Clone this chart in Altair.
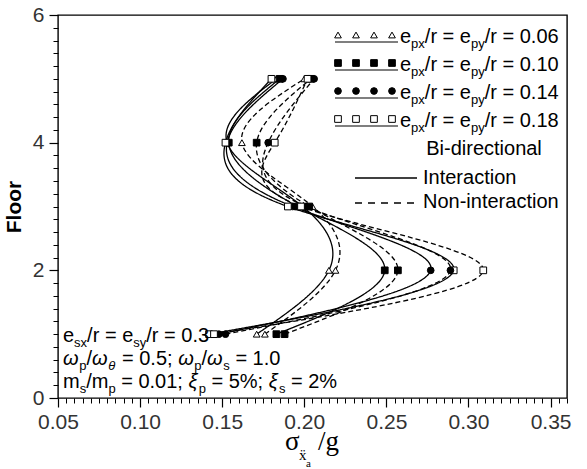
import altair as alt
import pandas as pd

# ---------------- data ----------------
floors = [1, 2, 3, 4, 5]
ecc_labels = ["0.06", "0.10", "0.14", "0.18"]
kinds = ["Interaction", "Non-interaction"]

inter_006 = [0.171, 0.215, 0.199, 0.153, 0.183]
inter_010 = [0.183, 0.249, 0.196, 0.154, 0.185]
inter_014 = [0.148, 0.277, 0.193, 0.153, 0.187]
inter_018 = [0.142, 0.291, 0.190, 0.152, 0.180]
non_006 = [0.176, 0.219, 0.205, 0.162, 0.200]
non_010 = [0.188, 0.257, 0.203, 0.171, 0.204]
non_014 = [0.152, 0.289, 0.201, 0.178, 0.206]
non_018 = [0.145, 0.309, 0.198, 0.182, 0.202]

x_ticks = [0.05, 0.10, 0.15, 0.20, 0.25, 0.30, 0.35]
y_ticks = [0, 2, 4, 6]

series = {
    ("Interaction", "0.06"): inter_006,
    ("Interaction", "0.10"): inter_010,
    ("Interaction", "0.14"): inter_014,
    ("Interaction", "0.18"): inter_018,
    ("Non-interaction", "0.06"): non_006,
    ("Non-interaction", "0.10"): non_010,
    ("Non-interaction", "0.14"): non_014,
    ("Non-interaction", "0.18"): non_018,
}
rows = []
for (kind, ecc), vals in series.items():
    for f, v in zip(floors, vals):
        rows.append({"kind": kind, "ecc": ecc, "series": kind + ecc, "floor": f, "sigma": v})
df = pd.DataFrame(rows)

# ---------------- geometry ----------------
L, T, W, H = 58, 15, 509, 383
X_MIN, X_MAX = 0.05, 0.36

x_minor = [round(0.05 + 0.005 * i, 4) for i in range(63) if i % 10]
y_minor = [round(0.2 * i, 4) for i in range(31) if i % 10]

xscale = alt.Scale(domain=[X_MIN, X_MAX], nice=False, zero=False)
yscale = alt.Scale(domain=[0, 6], nice=False, zero=False)
shape_scale = alt.Scale(domain=ecc_labels, range=["triangle-up", "square", "circle", "square"])
fill_scale = alt.Scale(domain=ecc_labels, range=["white", "black", "black", "white"])

LABEL_FONT = "Liberation Sans"
MSIZE = 45

x_major_axis = alt.Axis(values=x_ticks, format=".2f", labelFontSize=21, labelFont=LABEL_FONT,
                        labelColor="#333", tickSize=9, tickColor="black", tickWidth=1.2,
                        domain=False, grid=False, title=None, labelPadding=4, orient="bottom",
                        labelFlush=False, labelOverlap=False)
y_major_axis = alt.Axis(values=y_ticks, format="d", labelFontSize=21, labelFont=LABEL_FONT,
                        labelColor="#333", tickSize=9, tickColor="black", tickWidth=1.2,
                        domain=False, grid=False, title="Floor", titleFont=LABEL_FONT,
                        titleFontSize=21, titleFontWeight="bold", titleColor="black",
                        titleX=-38, titleY=H / 2, titleAngle=-90, titleBaseline="alphabetic",
                        titleAlign="center", labelPadding=5, orient="left", labelFlush=False)

base = alt.Chart(df)

lines = base.mark_line(interpolate="natural", color="black", strokeWidth=1.3).encode(
    x=alt.X("sigma:Q", scale=xscale, axis=x_major_axis),
    y=alt.Y("floor:Q", scale=yscale, axis=y_major_axis),
    detail="series:N",
    order=alt.Order("floor:Q"),
    strokeDash=alt.StrokeDash("kind:N", scale=alt.Scale(domain=kinds, range=[[1, 0], [5, 3]]), legend=None),
)

points = base.mark_point(filled=True, stroke="black", strokeWidth=1, size=MSIZE, opacity=1).encode(
    x=alt.X("sigma:Q", scale=xscale, axis=None),
    y=alt.Y("floor:Q", scale=yscale, axis=None),
    shape=alt.Shape("ecc:N", scale=shape_scale, legend=None),
    fill=alt.Fill("ecc:N", scale=fill_scale, legend=None),
)

minor = base.mark_point(opacity=0).encode(
    x=alt.X("sigma:Q", scale=xscale,
            axis=alt.Axis(values=x_minor, labels=False, domain=False, tickSize=5, grid=False,
                          orient="bottom", title=None, tickColor="black", tickWidth=1)),
    y=alt.Y("floor:Q", scale=yscale,
            axis=alt.Axis(values=y_minor, labels=False, domain=False, tickSize=5, grid=False,
                          orient="left", title=None, tickColor="black", tickWidth=1)),
)

# ---------------- legend ----------------
leg_rows = []
for r, e in enumerate(ecc_labels):
    for k in range(4):
        leg_rows.append({"ecc": e, "row": r, "slot": k})
leg_df = pd.DataFrame(leg_rows)

leg_points = alt.Chart(leg_df).transform_calculate(
    px="280 + 18*datum.slot", py="20 + 28*datum.row"
).mark_point(filled=True, stroke="black", strokeWidth=1, size=MSIZE, opacity=1).encode(
    x=alt.X("px:Q", scale=None, axis=None),
    y=alt.Y("py:Q", scale=None, axis=None),
    shape=alt.Shape("ecc:N", scale=shape_scale, legend=None),
    fill=alt.Fill("ecc:N", scale=fill_scale, legend=None),
)

dummy = pd.DataFrame({"k": [0]})
leg_rules = []
for r in range(4):
    leg_rules.append(alt.Chart(dummy).mark_rule(color="black", strokeWidth=1.2).encode(
        x=alt.value(277), x2=alt.value(340), y=alt.value(27 + 28 * r)))
leg_rules.append(alt.Chart(dummy).mark_rule(color="black", strokeWidth=1.3).encode(
    x=alt.value(297), x2=alt.value(359), y=alt.value(163)))
leg_rules.append(alt.Chart(dummy).mark_rule(color="black", strokeWidth=1.3, strokeDash=[7, 6]).encode(
    x=alt.value(297), x2=alt.value(359), y=alt.value(188)))

# ---------------- rich text ----------------
WID = {' ': 278, '%': 889, '.': 278, '/': 278, ';': 278, '=': 584, '-': 333,
       'B': 667, 'I': 278, 'N': 722, 'a': 556, 'c': 500, 'd': 556, 'e': 556, 'i': 222,
       'l': 222, 'm': 833, 'n': 556, 'o': 556, 'p': 556, 'r': 333, 's': 500, 't': 278,
       'x': 500, 'y': 500, 'ω': 760, 'θ': 556, 'ξ': 460}
for d in "0123456789":
    WID[d] = 556


def tw(s, size):
    return sum(WID.get(c, 556) for c in s) * size / 1000.0


def rich(segments, x0, y0, size):
    out = []
    x = x0
    for txt, sub, it in segments:
        sz = size * 0.65 if sub else size
        dy = size * 0.26 if sub else 0
        lead = len(txt) - len(txt.lstrip(" "))
        x += tw(" " * lead, sz)
        core = txt.strip(" ")
        trail = len(txt) - lead - len(core)
        out.append({"text": core, "px": x - L, "py": y0 + dy - T, "size": sz, "italic": it})
        x += tw(core, sz) + tw(" " * trail, sz) + (1.0 if it else 0.0)
    return out


S = 20
texts = []
for r, e in enumerate(ecc_labels):
    texts += rich([("e", 0, 0), ("px", 1, 0), ("/r = e", 0, 0), ("py", 1, 0), ("/r = " + e, 0, 0)],
                  400, 43 + 28 * r, S)
texts += rich([("Bi-directional", 0, 0)], 484 - tw("Bi-directional", S) / 2, 155, S)
texts += rich([("Interaction", 0, 0)], 423, 184, S)
texts += rich([("Non-interaction", 0, 0)], 423, 208, S)
texts += rich([("e", 0, 0), ("sx", 1, 0), ("/r = e", 0, 0), ("sy", 1, 0), ("/r = 0.3", 0, 0)], 63, 342, S)
texts += rich([("ω", 0, 1), ("p", 1, 0), ("/", 0, 0), ("ω", 0, 1), ("θ", 1, 1), (" = 0.5; ", 0, 0),
               ("ω", 0, 1), ("p", 1, 0), ("/", 0, 0), ("ω", 0, 1), ("s", 1, 0), (" = 1.0", 0, 0)], 63, 365, S)
texts += rich([("m", 0, 0), ("s", 1, 0), ("/m", 0, 0), ("p", 1, 0), (" = 0.01; ", 0, 0), ("ξ", 0, 1),
               ("p", 1, 0), (" = 5%; ", 0, 0), ("ξ", 0, 1), ("s", 1, 0), (" = 2%", 0, 0)], 63, 388, S)
tdf = pd.DataFrame(texts)

serif_df = pd.DataFrame([
    {"text": "σ", "px": 285 - L, "py": 450 - T, "size": 27},
    {"text": "ẍ", "px": 299 - L, "py": 460 - T, "size": 15},
    {"text": "a", "px": 306 - L, "py": 467 - T, "size": 11},
    {"text": "/g", "px": 318 - L, "py": 450 - T, "size": 27},
])


def text_layer(data, **kw):
    return alt.Chart(data).mark_text(align="left", baseline="alphabetic", color="black", **kw).encode(
        x=alt.X("px:Q", scale=None, axis=None),
        y=alt.Y("py:Q", scale=None, axis=None),
        text="text:N",
        size=alt.Size("size:Q", scale=None, legend=None),
    )


txt_normal = text_layer(tdf[tdf["italic"] == 0], font=LABEL_FONT)
txt_italic = text_layer(tdf[tdf["italic"] == 1], font=LABEL_FONT, fontStyle="italic")
txt_serif = text_layer(serif_df, font="Liberation Serif")

chart = alt.layer(
    minor, lines, points, leg_points, *leg_rules, txt_normal, txt_italic, txt_serif
).resolve_axis(x="independent", y="independent").properties(
    width=W, height=H,
    autosize=alt.AutoSizeParams(type="none"),
    padding={"left": L, "top": T, "right": 587 - L - W, "bottom": 469 - T - H},
    background="white",
).configure_view(stroke="black", strokeWidth=1.4)

chart.save("out.html", embed_options={"renderer": "svg", "actions": False})
